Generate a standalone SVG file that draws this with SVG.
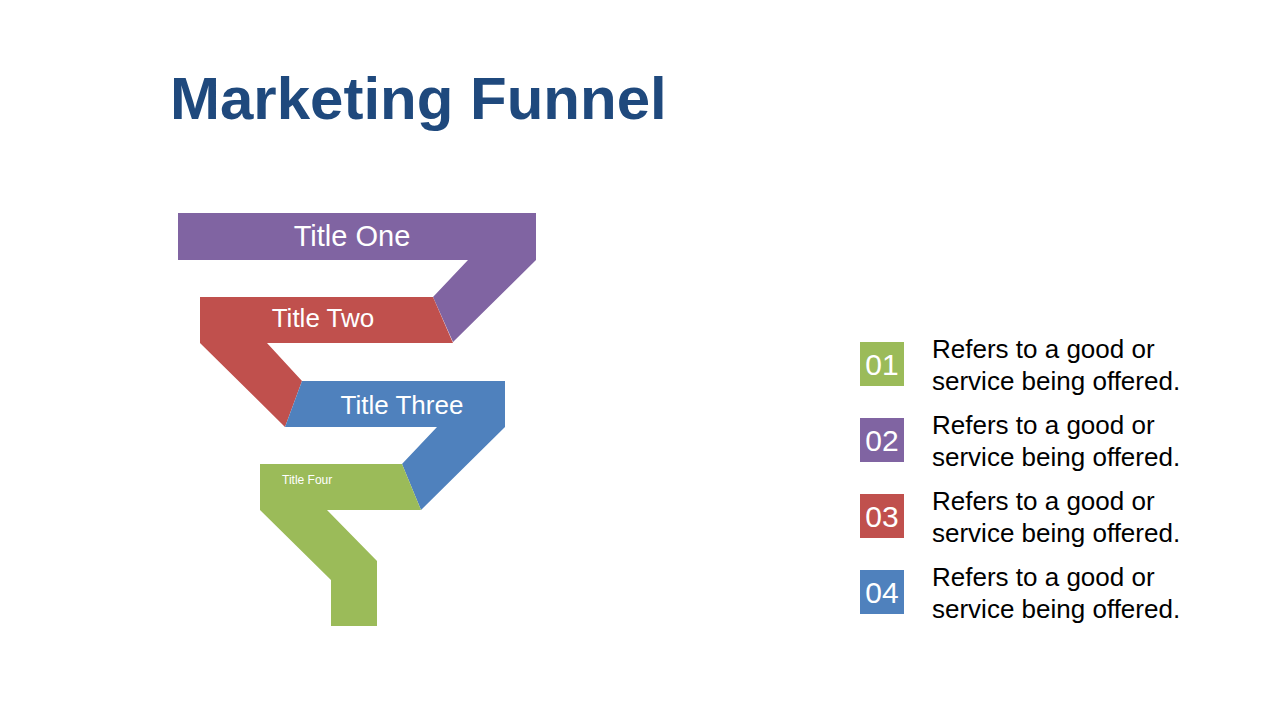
<svg xmlns="http://www.w3.org/2000/svg" width="1280" height="720" viewBox="0 0 1280 720">
<style>
text{font-family:"Liberation Sans",Arial,sans-serif}
.t{fill:#fff}
.d{font-size:26px;fill:#000}
.n{font-size:30px;fill:#fff;text-anchor:middle}
</style>
<rect width="1280" height="720" fill="#fff"/>
<text x="170" y="119" font-size="60" font-weight="bold" fill="#1F497D">Marketing Funnel</text>
<g id="stage1"><polygon points="178,213 536,213 536,260 453,342 433,297 468,260 178,260" fill="#8064A2"/><text class="t" x="352" y="246" font-size="29" text-anchor="middle">Title One</text></g>
<g id="stage2"><polygon points="200,297 433,297 453,343 267,343 302,381 285,427 200,343" fill="#C0504D"/><text class="t" x="323" y="327" font-size="26" text-anchor="middle">Title Two</text></g>
<g id="stage3"><polygon points="302,381 505,381 505,427 421,510 402,464 437,427 285,427" fill="#4F81BD"/><text class="t" x="402" y="414" font-size="26" text-anchor="middle">Title Three</text></g>
<g id="stage4"><polygon points="260,464 402,464 421,510 327,510 377,561 377,626 331,626 331,580 260,510" fill="#9BBB59"/><text class="t" x="282" y="484" font-size="12">Title Four</text></g>
<g id="legend1"><rect x="860" y="342" width="44" height="44" fill="#9BBB59"/><text class="n" x="882" y="375">01</text><text class="d" x="932" y="358">Refers to a good or</text><text class="d" x="932" y="390">service being offered.</text></g>
<g id="legend2"><rect x="860" y="418" width="44" height="44" fill="#8064A2"/><text class="n" x="882" y="451">02</text><text class="d" x="932" y="434">Refers to a good or</text><text class="d" x="932" y="466">service being offered.</text></g>
<g id="legend3"><rect x="860" y="494" width="44" height="44" fill="#C0504D"/><text class="n" x="882" y="527">03</text><text class="d" x="932" y="510">Refers to a good or</text><text class="d" x="932" y="542">service being offered.</text></g>
<g id="legend4"><rect x="860" y="570" width="44" height="44" fill="#4F81BD"/><text class="n" x="882" y="603">04</text><text class="d" x="932" y="586">Refers to a good or</text><text class="d" x="932" y="618">service being offered.</text></g>
<g id="connectors"/>
</svg>
